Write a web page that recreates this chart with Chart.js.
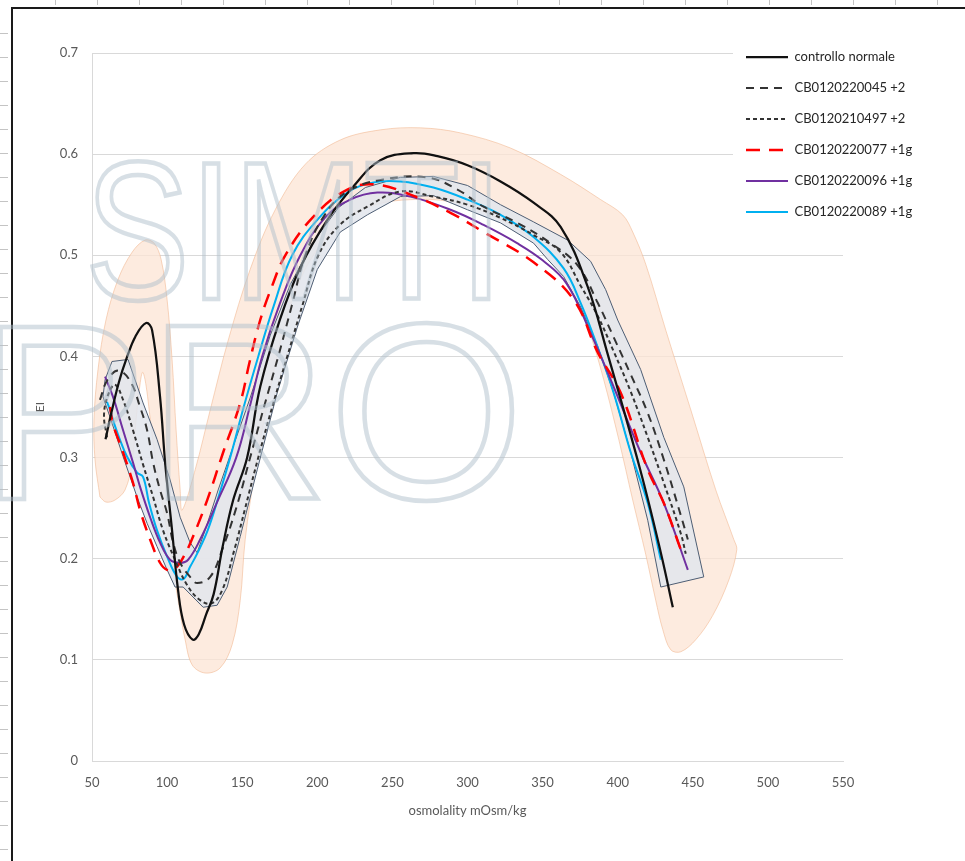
<!DOCTYPE html>
<html><head><meta charset="utf-8">
<script src="https://cdn.jsdelivr.net/npm/chart.js@4.4.1/dist/chart.umd.min.js"></script>
<style>
html,body{margin:0;padding:0;background:#fff;}
#wrap{position:relative;width:965px;height:861px;overflow:hidden;background:#fff;}
#frame{position:absolute;left:11px;top:7px;width:970px;height:870px;border-left:2px solid #1a1a1a;border-top:2px solid #1a1a1a;}
#rulL{position:absolute;left:0;top:10px;width:8px;height:851px;background:repeating-linear-gradient(to bottom,transparent 0,transparent 23px,#c4c4c4 23px,#c4c4c4 24px);}
#rulT{position:absolute;left:14px;top:0;width:951px;height:5px;background:repeating-linear-gradient(to right,transparent 0,transparent 41px,#c4c4c4 41px,#c4c4c4 42px);}
canvas{position:absolute;left:0;top:0;}
.wm{position:absolute;color:transparent;-webkit-text-stroke:4.5px rgba(176,192,204,0.5);font-family:'Liberation Sans',sans-serif;white-space:nowrap;pointer-events:none;line-height:1;transform-origin:0 0;}
</style></head><body>
<div id="wrap">
<div id="rulL"></div><div id="rulT"></div>
<div id="frame"></div>
<canvas id="c" width="965" height="861"></canvas>
<div class="wm" style="left:85px;top:134px;font-size:196px;transform:scaleX(0.8);">SIMTI</div>
<div class="wm" style="left:-20px;top:287px;font-size:251px;">PRO</div>
</div>
<script>
// ---- data (osmolality mOsm/kg, EI) ----
const seriesLabels = ['controllo normale','CB0120220045 +2','CB0120210497 +2','CB0120220077 +1g','CB0120220096 +1g','CB0120220089 +1g'];
const xTicks = [50,100,150,200,250,300,350,400,450,500,550];
const yTicks = [0,0.1,0.2,0.3,0.4,0.5,0.6,0.7];

const controlNormal = [[59,0.318],[63,0.345],[68,0.375],[73,0.398],[79,0.42],[86,0.433],[90,0.426],[95.3,0.36],[98.7,0.295],[103.3,0.228],[107.3,0.169],[111.3,0.135],[117,0.12],[121,0.125],[126,0.145],[131,0.165],[137,0.212],[144,0.258],[153.3,0.3],[162,0.37],[175,0.436],[188.7,0.488],[206.7,0.535],[224,0.568],[242,0.594],[264,0.601],[280,0.598],[300,0.589],[322,0.573],[344,0.552],[362,0.528],[380,0.469],[393,0.404],[415,0.288],[428.7,0.206],[436.7,0.152]];

const cb0045 = [[55.3,0.357],[60,0.376],[67.3,0.386],[75.3,0.376],[82,0.35],[86.7,0.327],[90.7,0.295],[95.3,0.268],[100,0.245],[104,0.216],[108.7,0.196],[115.3,0.182],[120,0.176],[128.7,0.182],[136.7,0.209],[146,0.25],[155.3,0.3],[164.5,0.35],[174,0.4],[183,0.45],[192,0.5],[205,0.54],[220,0.563],[244,0.575],[273.3,0.577],[293.3,0.565],[310.7,0.548],[333.3,0.532],[355.3,0.512],[373.3,0.49],[386.7,0.453],[397.3,0.419],[408.7,0.382],[420,0.344],[430.7,0.298],[442,0.243],[446.7,0.219]];

const cb0497 = [[60,0.32],[58,0.342],[60.7,0.362],[65.3,0.372],[70.7,0.357],[77.3,0.327],[84,0.293],[90.7,0.261],[97.3,0.228],[105.3,0.199],[113.3,0.174],[122,0.159],[130,0.156],[137,0.17],[145,0.21],[152,0.25],[160.7,0.3],[170,0.35],[180,0.4],[190,0.45],[200.7,0.5],[215,0.53],[233.3,0.548],[255.3,0.563],[277.3,0.558],[300,0.55],[322,0.537],[344,0.52],[362,0.503],[375.3,0.47],[386.7,0.44],[397.3,0.405],[408.7,0.365],[420,0.32],[430.7,0.275],[442,0.225],[445.3,0.205]];

const cb0077 = [[62,0.35],[64,0.333],[70,0.308],[77.3,0.275],[82,0.248],[88.7,0.219],[95.3,0.196],[100,0.189],[105,0.19],[111,0.202],[117.3,0.222],[126.7,0.258],[137.3,0.305],[148.7,0.354],[155,0.395],[162,0.436],[170,0.47],[178.7,0.5],[197.3,0.538],[220,0.565],[238.7,0.57],[262,0.56],[288.7,0.542],[310.7,0.523],[344,0.493],[370.7,0.456],[386.7,0.404],[402,0.364],[420,0.288],[430.7,0.255],[442,0.209]];

const cb0096 = [[58.7,0.38],[64,0.36],[70.7,0.327],[77.3,0.295],[82,0.271],[88.7,0.241],[95.3,0.216],[102,0.199],[108.7,0.196],[114,0.199],[122,0.219],[133,0.255],[146,0.3],[155,0.35],[163.3,0.4],[175,0.452],[188.7,0.5],[205,0.537],[222,0.555],[240,0.562],[262,0.558],[288.7,0.545],[310.7,0.53],[333,0.512],[350,0.495],[366,0.472],[382,0.423],[397.3,0.37],[415.3,0.305],[430.7,0.255],[446.7,0.189]];

const cb0089 = [[60,0.355],[62.5,0.345],[64,0.337],[68,0.32],[73.3,0.301],[80,0.285],[84,0.281],[88,0.255],[93.3,0.228],[100,0.202],[106.7,0.182],[111,0.18],[115.3,0.192],[120,0.205],[127,0.228],[134,0.26],[142,0.3],[151,0.35],[160.7,0.4],[171,0.45],[183.3,0.5],[200,0.535],[220,0.562],[237.3,0.572],[255.3,0.573],[277.3,0.567],[300,0.555],[322,0.54],[344,0.518],[364,0.487],[375.3,0.453],[386.7,0.409],[397.3,0.364],[408.7,0.305],[420,0.255],[428.7,0.199]];

// reference range band (closed outline)
const normalBand = [[55.3,0.261],[52,0.298],[51.3,0.337],[54,0.387],[59.3,0.436],[67.3,0.476],[76.7,0.503],[85.3,0.515],[91.3,0.512],[96,0.496],[100,0.456],[103.3,0.397],[106,0.327],[108.7,0.268],[110,0.248],[118.7,0.288],[128.7,0.347],[140.7,0.416],[155.3,0.486],[172,0.545],[192,0.59],[215.3,0.614],[242,0.624],[268.7,0.626],[295.3,0.621],[328.7,0.606],[362,0.58],[388.7,0.555],[403.3,0.54],[410,0.523],[418.7,0.491],[432,0.426],[448.7,0.347],[465.3,0.268],[477.3,0.219],[479.3,0.209],[474,0.179],[463.3,0.144],[452,0.12],[442,0.108],[435.3,0.11],[430,0.13],[425.3,0.159],[418.7,0.204],[410,0.258],[400.7,0.318],[390.7,0.377],[382,0.421],[372,0.461],[358.7,0.494],[338.7,0.52],[315.3,0.54],[288.7,0.553],[262,0.555],[238.7,0.55],[218.7,0.535],[202,0.51],[188.7,0.476],[177.3,0.426],[167.3,0.357],[158.7,0.288],[152,0.219],[148.7,0.159],[143.3,0.115],[135.3,0.092],[125.3,0.087],[116.7,0.095],[112,0.12],[107.3,0.159],[102,0.209],[95.3,0.268],[90.7,0.315],[84,0.384],[80,0.347],[76.7,0.295],[72,0.268],[65.3,0.258],[59.3,0.256],[55.3,0.261]];

// patient group envelope (closed outline)
const groupBand = [[63.3,0.395],[74,0.397],[84,0.354],[93.3,0.318],[102,0.278],[108.7,0.241],[115.3,0.216],[120,0.206],[125.3,0.228],[134,0.268],[143.3,0.308],[155.3,0.359],[168.7,0.421],[182,0.471],[196.7,0.512],[214,0.547],[232,0.567],[255.3,0.577],[277.3,0.578],[300,0.569],[322,0.55],[344,0.533],[366.7,0.515],[382,0.494],[392,0.466],[400,0.436],[415.3,0.387],[430.7,0.32],[444,0.271],[457.3,0.182],[428.7,0.172],[420,0.238],[408.7,0.305],[397.3,0.364],[386.7,0.41],[375.3,0.449],[364,0.479],[353.3,0.496],[344,0.512],[322,0.532],[300,0.545],[277.3,0.559],[255.3,0.558],[233.3,0.54],[215.3,0.523],[200,0.486],[186.7,0.429],[173.3,0.364],[160,0.288],[148.7,0.222],[140,0.172],[133.3,0.154],[124,0.152],[110.7,0.172],[105.3,0.172],[100,0.189],[93.3,0.212],[86.7,0.235],[80,0.261],[70.7,0.301],[62,0.34],[57.3,0.36],[58.7,0.377],[63.3,0.395]];

const pts = a => a.map(p => ({x: p[0], y: p[1]}));
const FONT = 'Lato';

function line(label, data, color, width, dash) {
  return {label, data: pts(data), showLine: true, borderColor: color, backgroundColor: color,
    borderWidth: width, borderDash: dash, pointRadius: 0, pointHoverRadius: 0, tension: 0.4, fill: false, order: 0};
}

const datasets = [
  line(seriesLabels[0], controlNormal, '#111111', 2.25, []),
  line(seriesLabels[1], cb0045, '#333333', 2, [8, 6]),
  line(seriesLabels[2], cb0497, '#333333', 2, [4, 3]),
  line(seriesLabels[3], cb0077, '#FF0000', 2.5, [14, 9]),
  line(seriesLabels[4], cb0096, '#7030A0', 2, []),
  line(seriesLabels[5], cb0089, '#00B0F0', 2, []),
  {label: 'group', data: pts(groupBand), showLine: true, borderColor: '#4d5d73', borderWidth: 1,
   backgroundColor: 'rgba(226,230,237,0.88)', fill: 'shape', tension: 0, pointRadius: 0, order: 1},
  {label: 'normal range', data: pts(normalBand), showLine: true, borderColor: 'rgba(240,180,140,0.55)', borderWidth: 1,
   backgroundColor: 'rgba(252,228,212,0.75)', fill: 'shape', tension: 0.35, pointRadius: 0, order: 2}
];

const legendPlace = {
  id: 'legendPlace',
  afterLayout(chart) {
    const lg = chart.legend; if (!lg) return;
    const w = lg.width, h = lg.height;
    lg.left = 728; lg.right = 728 + w; lg.top = 32.5; lg.bottom = 32.5 + h;
  },
  afterDatasetsDraw(chart) {
    const lg = chart.legend; if (!lg) return;
    const ctx = chart.ctx;
    ctx.save(); ctx.fillStyle = '#ffffff'; ctx.fillRect(733, 38, 200, 196); ctx.restore();
    lg.draw();
  }
};

new Chart(document.getElementById('c').getContext('2d'), {
  type: 'scatter',
  data: {datasets},
  plugins: [legendPlace],
  options: {
    responsive: false, animation: false, devicePixelRatio: 1,
    layout: {padding: {left: 12, right: 122, top: 53, bottom: 0}},
    scales: {
      x: {type: 'linear', min: 50, max: 550,
        afterBuildTicks: s => { s.ticks = xTicks.map(v => ({value: v})); },
        ticks: {color: '#595959', font: {family: FONT, size: 13}, padding: 14, maxRotation: 0},
        grid: {display: false, drawTicks: false},
        border: {display: true, color: '#D9D9D9', width: 1},
        title: {display: true, text: 'osmolality mOsm/kg', color: '#595959', font: {family: FONT, size: 13}, padding: {top: 0, bottom: 42}},
        afterFit: s => { s.height = 100; }
      },
      y: {min: 0, max: 0.7,
        afterBuildTicks: s => { s.ticks = yTicks.map(v => ({value: v})); },
        ticks: {color: '#595959', font: {family: FONT, size: 13}, padding: 14,
          callback: v => v === 0 ? '0' : Number(v).toFixed(1)},
        grid: {color: '#D9D9D9', drawTicks: false, lineWidth: 1},
        border: {display: true, color: '#D9D9D9', width: 1},
        title: {display: true, text: 'EI', color: '#595959', font: {family: FONT, size: 12}, padding: {top: 21, bottom: 0}},
        afterFit: s => { s.width = 80; }
      }
    },
    plugins: {
      tooltip: {enabled: false},
      legend: {
        position: 'chartArea', align: 'start',
        labels: {
          usePointStyle: true, pointStyle: 'line', pointStyleWidth: 42, boxHeight: 13, padding: 18,
          color: '#262626', font: {family: FONT, size: 13},
          generateLabels: chart => chart.data.datasets.slice(0, 6).map((ds, i) => ({
            text: ds.label, fillStyle: ds.borderColor, strokeStyle: ds.borderColor,
            lineWidth: ds.borderWidth, lineDash: ds.borderDash, lineCap: 'butt',
            pointStyle: 'line', hidden: false, datasetIndex: i, fontColor: '#262626'
          }))
        }
      }
    }
  }
});
</script>
</body></html>
